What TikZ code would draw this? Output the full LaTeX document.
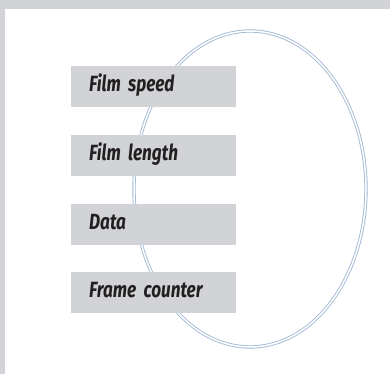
\documentclass[tikz,border=0pt]{standalone}
\usepackage{fontspec}
\newfontfamily\labelfont[FakeStretch=0.78]{Fira Sans}
\definecolor{panelgray}{RGB}{209,211,214}
\definecolor{ringblue}{RGB}{163,186,214}
\definecolor{inkdark}{RGB}{35,31,32}
\tikzset{
  fieldbox/.style={fill=panelgray, anchor=north west, minimum width=165pt,
    minimum height=41pt, text width=129pt, inner xsep=18pt, inner ysep=0pt,
    align=left, text height=15pt, text depth=5pt, text=inkdark,
    font=\labelfont\bfseries\itshape\fontsize{22}{26}\selectfont}
}
\begin{document}
\begin{tikzpicture}[x=1pt,y=1pt]
            \fill[panelgray] (0,0) rectangle (390,374);
            \fill[white] (5,0) rectangle (390,365);
            \draw[ringblue, line width=0.9pt, double=white, double distance=1.5pt]
              (250,185) ellipse (116 and 158);
            \foreach \i/\y/\txt in {1/308/Film speed, 2/239/Film length, 3/170/Data, 4/102/Frame counter}
            \node[fieldbox] (box\i) at (71,\y) {\txt};
        \end{tikzpicture}
\end{document}
